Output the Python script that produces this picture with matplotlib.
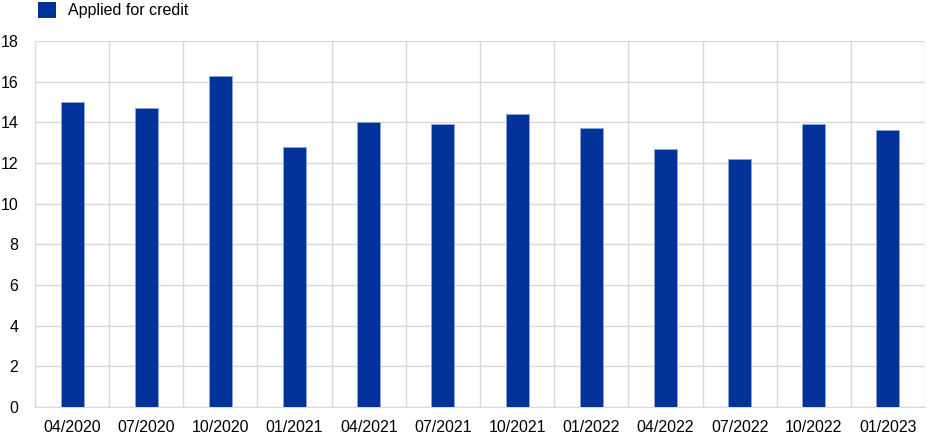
import numpy as np
import matplotlib.pyplot as plt
from matplotlib.patches import Patch

plt.rcParams['font.family'] = ['Liberation Sans', 'DejaVu Sans']

# data
quarters = ['04/2020', '07/2020', '10/2020', '01/2021', '04/2021', '07/2021',
            '10/2021', '01/2022', '04/2022', '07/2022', '10/2022', '01/2023']
applied = [15.0, 14.7, 16.3, 12.8, 14.0, 13.9, 14.4, 13.7, 12.7, 12.2, 13.9, 13.6]

blue = '#003299'
grid = '#d9d9d9'

fig = plt.figure(figsize=(9.48, 4.45), dpi=100)
ax = fig.add_axes([35 / 948, 38 / 445, 890 / 948, 366 / 445])

x = np.arange(len(quarters))
ax.bar(x, applied, width=0.31, color=blue, edgecolor='#8fa6d8', linewidth=0.6, zorder=3)

ax.set_xlim(-0.5, len(quarters) - 0.5)
ax.set_ylim(0, 18)
ax.set_yticks(range(0, 19, 2))
ax.set_xticks(x)
ax.set_xticklabels(quarters)
ax.set_xticks(np.arange(-0.5, len(quarters), 1), minor=True)

ax.grid(True, axis='y', color=grid, linewidth=1, zorder=0)
ax.grid(True, axis='x', which='minor', color=grid, linewidth=1, zorder=0)
ax.tick_params(axis='both', which='both', length=0, labelsize=11.5, colors='#000000')
ax.tick_params(axis='x', pad=9)
ax.tick_params(axis='y', pad=12)
for s in ax.spines.values():
    s.set_color(grid)
ax.spines['top'].set_visible(False)
ax.spines['right'].set_visible(False)

fig.legend(handles=[Patch(facecolor=blue, label='Applied for credit')],
           loc='upper left', bbox_to_anchor=(24 / 948, 1.027), frameon=False,
           fontsize=11.5, handlelength=1.1, handleheight=1.1, handletextpad=0.75)

fig.savefig('out.png', dpi=100)
